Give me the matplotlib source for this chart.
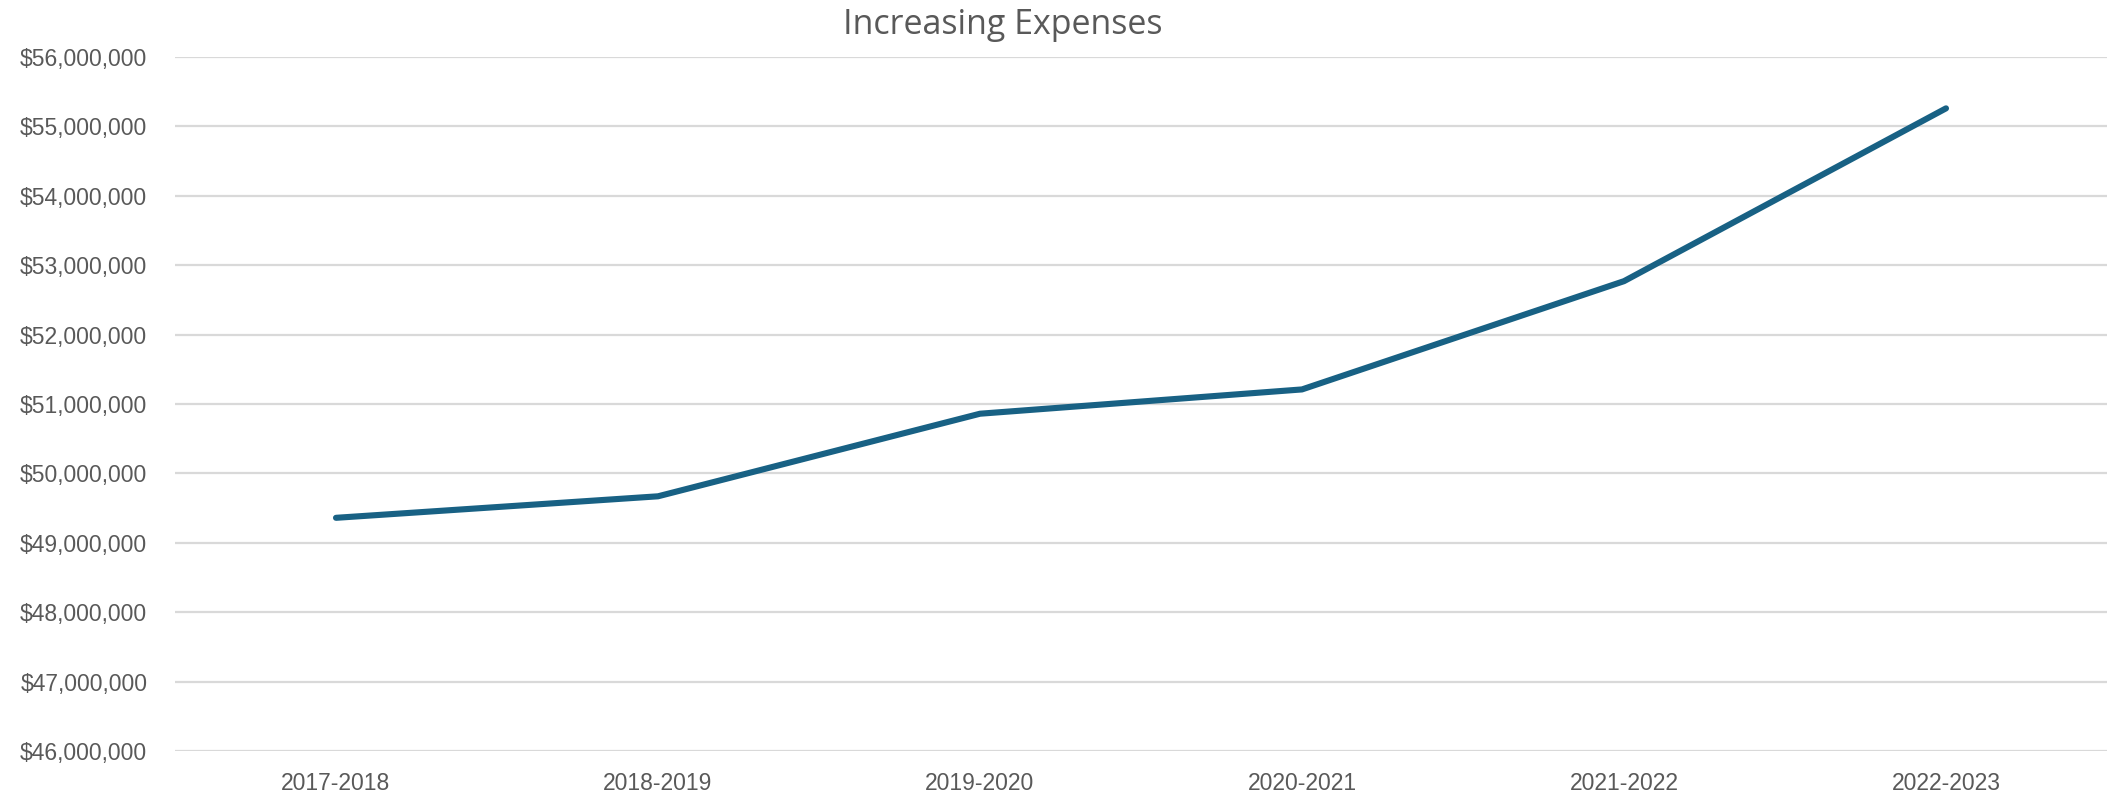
import matplotlib
matplotlib.use("Agg")
import matplotlib.pyplot as plt
from matplotlib.ticker import FuncFormatter, MultipleLocator

categories = ["2017-2018", "2018-2019", "2019-2020", "2020-2021", "2021-2022", "2022-2023"]
expenses = [49360000, 49670000, 50860000, 51210000, 52770000, 55260000]
title = "Increasing Expenses"

W, H = 2113, 795
fig = plt.figure(figsize=(W / 100, H / 100), dpi=100)
ax = fig.add_axes([175 / W, 1 - 751 / H, (2107 - 175) / W, (751 - 57) / H])

x = list(range(len(categories)))
ax.plot(x, expenses, color="#186184", lw=4.4, solid_capstyle="round", solid_joinstyle="round", zorder=3)

ax.set_xlim(-0.5, len(categories) - 0.5)
ax.set_ylim(46000000, 56000000)
ax.yaxis.set_major_locator(MultipleLocator(1000000))
ax.yaxis.set_major_formatter(FuncFormatter(lambda v, p: f"${v:,.0f}"))
ax.set_xticks(x)
ax.set_xticklabels(categories)

ax.grid(axis="y", color="#d9d9d9", lw=1.6)
ax.set_axisbelow(True)
for s in ax.spines.values():
    s.set_visible(False)
ax.tick_params(axis="both", length=0, colors="#595959", labelsize=16.5)
ax.tick_params(axis="y", pad=20)
ax.tick_params(axis="x", pad=15)
for lab in ax.get_xticklabels() + ax.get_yticklabels():
    lab.set_family("Liberation Sans")

fig.text(1003 / W, 1 - 25 / H, title, ha="center", va="center", fontsize=24.5, color="#595959", family="Open Sans")

fig.savefig("out.png", dpi=100, facecolor="white")
